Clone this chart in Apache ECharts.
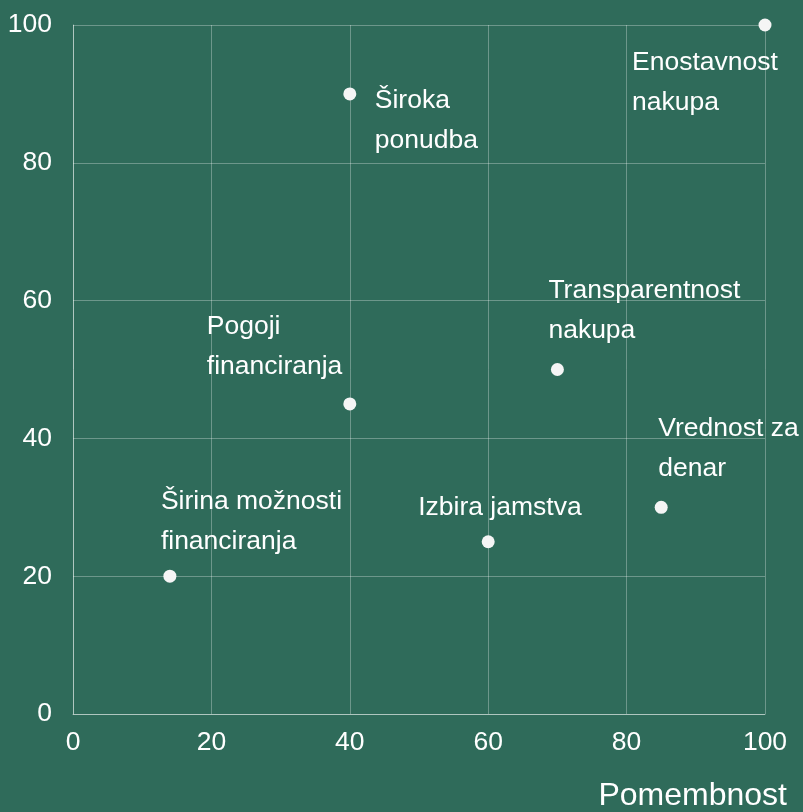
<!DOCTYPE html>
<html><head><meta charset="utf-8">
<script src="https://cdn.jsdelivr.net/npm/echarts@6/dist/echarts.min.js"></script>
<style>html,body{margin:0;padding:0;background:#2f6b5a;}#c{width:803px;height:812px;}</style>
</head><body><div id="c"></div>
<script>
const names = ['Enostavnost\nnakupa','Široka\nponudba','Transparentnost\nnakupa','Pogoji\nfinanciranja','Vrednost za\ndenar','Izbira jamstva','Širina možnosti\nfinanciranja'];
const xValues = [100, 40, 70, 40, 85, 60, 14];
const yValues = [100, 90, 50, 45, 30, 25, 20];
const ticks = [0, 20, 40, 60, 80, 100];
// label placement (layout only)
const labelOffsets = [[-133,18],[25,-13],[-9,-99],[-143,-97],[-3,-99],[-70,-54],[-9,-95]];

const chart = echarts.init(document.getElementById('c'));
const font = 'Liberation Sans, Arial, sans-serif';
chart.setOption({
  backgroundColor: '#2f6b5a',
  animation: false,
  grid: {left: 73, right: 38, top: 25, bottom: 96},
  xAxis: {
    type: 'value', min: ticks[0], max: ticks[ticks.length-1], interval: 20,
    name: 'Pomembnost', nameLocation: 'end', nameGap: 22,
    nameTextStyle: {color: '#ffffff', fontSize: 32, fontFamily: font, align: 'right', verticalAlign: 'top', padding: [66,0,0,0]},
    axisLine: {show: true, lineStyle: {color: 'rgba(255,255,255,0.45)', width: 1}},
    axisTick: {show: false},
    axisLabel: {color: '#ffffff', fontSize: 26.5, fontFamily: font, margin: 15},
    splitLine: {show: true, lineStyle: {color: 'rgba(255,255,255,0.3)', width: 1}}
  },
  yAxis: {
    type: 'value', min: ticks[0], max: ticks[ticks.length-1], interval: 20,
    axisLine: {show: true, lineStyle: {color: 'rgba(255,255,255,0.45)', width: 1}},
    axisTick: {show: false},
    axisLabel: {color: '#ffffff', fontSize: 26.5, fontFamily: font, margin: 21},
    splitLine: {show: true, lineStyle: {color: 'rgba(255,255,255,0.3)', width: 1}}
  },
  series: [{
    type: 'scatter',
    symbolSize: 13,
    itemStyle: {color: '#f5f5f5', opacity: 1},
    data: names.map((n, i) => ({
      value: [xValues[i], yValues[i]], name: n,
      label: {offset: labelOffsets[i]}
    })),
    label: {
      show: true, position: 'inside', align: 'left', verticalAlign: 'top',
      formatter: p => p.name,
      color: '#ffffff', fontSize: 26.5, fontFamily: font, lineHeight: 40
    }
  }]
});
</script></body></html>
